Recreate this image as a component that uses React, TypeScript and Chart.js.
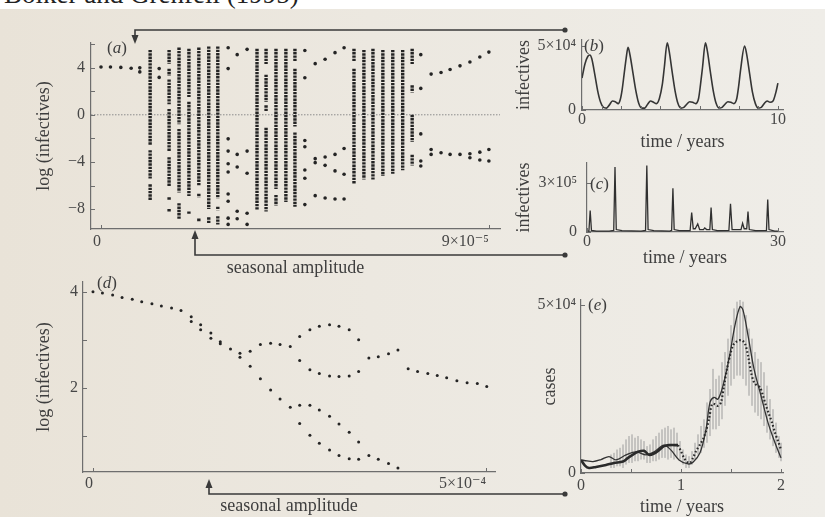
import React, { useEffect, useRef } from "react";
import { Chart, registerables } from "chart.js";

Chart.register(...registerables);

const FONT = "'Liberation Serif', 'DejaVu Serif', 'Times New Roman', serif";
const INK = "#242424";
const AXIS = "#6e6e6e";
const TEXT = "#474747";
const TEXT_T = "#3e3e3e";

// ---------------- panel (a): bifurcation, seasonal amplitude x 1e-5 ----------------
const aXTicks = [0, 9];
const aXTickLabels = ["0", "9×10⁻⁵"];
const aYTicks = [-8, -6, -4, -2, 0, 2, 4, 6];
const aYTickLabels = ["−8", "", "−4", "", "0", "", "4", ""];
const aDenseX = [1.14, 1.58, 1.81, 2.04, 2.27, 2.5, 2.71, 3.62, 3.83, 4.06, 4.29, 4.5, 5.87, 6.1, 6.31, 6.54, 6.77, 7.0, 7.22];
const aDenseSegs: number[][][] = [
  [[5.5, -2.6], [-3.0, -5.4], [-5.9, -7.3]],
  [[5.5, 4.3], [3.9, 3.3], [3.0, 0.9], [0.5, -3.1], [-3.6, -6.1], [-7.0, -7.2], [-8.0, -8.2]],
  [[5.7, -0.8], [-1.2, -6.6], [-7.5, -8.9]],
  [[5.6, 1.5], [1.1, -6.9], [-8.2, -8.4]],
  [[5.7, -6.0], [-6.7, -7.0], [-8.8, -9.1]],
  [[5.8, -8.0], [-8.7, -9.2]],
  [[5.8, -7.1], [-7.8, -8.1], [-8.6, -9.3]],
  [[5.6, -8.1]],
  [[5.6, 4.3], [3.4, 1.1], [0.8, 0.3], [-1.1, -8.2]],
  [[5.6, -6.3], [-6.8, -7.7]],
  [[5.6, -7.4]],
  [[5.6, 4.5], [3.9, -1.0], [-1.5, -7.8]],
  [[5.6, 4.5], [3.9, -5.9]],
  [[5.5, -5.5]],
  [[5.6, -5.5]],
  [[5.5, -5.2]],
  [[5.5, -5.0]],
  [[5.5, -4.7]],
  [[5.6, 4.3], [2.5, 1.9], [0.0, -2.3], [-3.4, -4.3]],
];
const aDotX = [0, 0.22, 0.46, 0.7, 0.9, 1.35, 2.95, 3.16, 3.39, 4.73, 4.97, 5.2, 5.43, 5.64, 7.42, 7.66, 7.89, 8.1, 8.33, 8.56, 8.79, 9.0];
const aDotY: number[][] = [
  [4.06], [4.06], [4.02], [3.95], [3.98, 3.64], [3.92, 3.17],
  [5.69, 3.92, -2.04, -3.08, -4.15, -4.85, -6.72, -7.34, -8.77, -9.3],
  [5.1, -3.36, -4.43, -8.18, -8.82],
  [5.55, -3.08, -4.96, -8.35, -9.3],
  [5.46, 3.14, -2.18, -2.71, -4.68, -5.38, -7.62],
  [4.34, -3.72, -4.06, -6.86],
  [4.71, -3.58, -4.29, -7.06],
  [5.27, -3.36, -4.76, -7.14],
  [5.69, -2.86, -5.04, -7.14],
  [5.1, 2.24, -1.62, -3.92, -4.34],
  [3.45, -2.94, -3.36],
  [3.59, -3.22],
  [3.84, -3.36],
  [4.15, -3.36],
  [4.48, -3.31, -3.64],
  [4.9, -3.17, -3.84],
  [5.32, -2.94, -3.92],
];

// ---------------- panel (d): bifurcation, seasonal amplitude x 1e-4 ----------------
const dXTicks = [0, 5];
const dXTickLabels = ["0", "5×10⁻⁴"];
const dYTicks = [1, 2, 3, 4];
const dYTickLabels = ["", "2", "", "4"];
const dX = [0, 0.12, 0.25, 0.37, 0.5, 0.62, 0.75, 0.87, 1.0, 1.12, 1.25, 1.37, 1.5, 1.62, 1.75, 1.87, 2.0, 2.13, 2.26, 2.38, 2.51, 2.63, 2.76, 2.88, 3.01, 3.13, 3.26, 3.38, 3.51, 3.63, 3.76, 3.88, 4.01, 4.13, 4.26, 4.38, 4.5, 4.63, 4.76, 4.89, 5.01];
const dY: number[][] = [
  [4.0], [3.97], [3.93], [3.88], [3.84], [3.79], [3.75], [3.7], [3.66], [3.61],
  [3.48, 3.38], [3.31, 3.21], [3.14, 3.03], [2.96, 2.92], [2.81], [2.72, 2.64],
  [2.76, 2.45], [2.9, 2.19], [2.93, 1.96], [2.9, 1.77], [2.86, 1.6],
  [3.07, 2.57, 1.64, 1.26], [3.21, 2.38, 1.64, 1.02], [3.28, 2.3, 1.54, 0.85],
  [3.31, 2.25, 1.41, 0.71], [3.28, 2.24, 1.25, 0.6], [3.21, 2.25, 1.08, 0.53],
  [3.0, 2.34, 0.88, 0.52], [2.62, 0.6], [2.65, 0.52], [2.71, 0.43], [2.79, 0.34],
  [2.4], [2.34], [2.3], [2.26], [2.21], [2.15], [2.11], [2.09], [2.03],
];

// ---------------- panel (b): infectives over 10 years (x 1e4) ----------------
const bXTicks = [0, 1, 2, 3, 4, 5, 6, 7, 8, 9, 10];
const bXTickLabels = ["0", "", "", "", "", "", "", "", "", "", "10"];
const bYTicks = [0, 5];
const bYTickLabels = ["0", "5×10⁴"];
const bT = [0, 0.15, 0.3, 0.4, 0.5, 0.65, 0.8, 0.95, 1.1, 1.25, 1.4, 1.55, 1.7, 1.85, 1.95, 2.05, 2.15, 2.25, 2.35, 2.45, 2.6, 2.75, 2.9, 3.05, 3.2, 3.35, 3.5, 3.65, 3.8, 3.95, 4.1, 4.2, 4.35, 4.45, 4.6, 4.75, 4.9, 5.05, 5.2, 5.35, 5.5, 5.65, 5.8, 5.95, 6.05, 6.15, 6.3, 6.4, 6.55, 6.7, 6.85, 7.0, 7.15, 7.3, 7.45, 7.6, 7.75, 7.9, 8.0, 8.1, 8.3, 8.4, 8.55, 8.7, 8.85, 9.0, 9.15, 9.3, 9.45, 9.6, 9.75, 9.9, 10.0];
const bV = [2.5, 3.6, 4.2, 4.3, 4.0, 2.8, 1.5, 0.6, 0.2, 0.15, 0.4, 0.7, 0.65, 0.5, 0.8, 1.6, 2.8, 4.0, 4.9, 4.3, 2.9, 1.5, 0.5, 0.15, 0.15, 0.45, 0.7, 0.6, 0.5, 0.9, 2.0, 3.3, 5.25, 4.6, 3.0, 1.5, 0.5, 0.15, 0.2, 0.45, 0.65, 0.6, 0.5, 0.9, 2.0, 3.3, 5.25, 4.6, 3.0, 1.5, 0.5, 0.15, 0.2, 0.45, 0.65, 0.6, 0.5, 0.9, 1.9, 3.2, 5.0, 4.4, 2.9, 1.4, 0.5, 0.15, 0.2, 0.5, 0.7, 0.6, 0.7, 1.4, 2.1];

// ---------------- panel (c): infectives over 30 years (x 1e5) ----------------
const cXTicks = [0, 30];
const cXTickLabels = ["0", "30"];
const cYTicks = [0, 3];
const cYTickLabels = ["0", "3×10⁵"];
const cT = [0, 0.3, 0.5, 0.7, 1.5, 3.5, 4.2, 4.4, 4.6, 5.5, 8.5, 9.2, 9.4, 9.6, 10.5, 13.0, 13.3, 13.5, 13.7, 14.5, 16.2, 16.45, 16.7, 17.0, 17.4, 17.7, 18.3, 18.5, 18.8, 19.3, 19.5, 19.7, 20.5, 22.3, 22.55, 22.8, 24.2, 24.45, 24.7, 25.1, 25.3, 25.5, 26.5, 28.2, 28.4, 28.6, 29.5, 30];
const cV = [0.05, 0.06, 1.32, 0.1, 0.05, 0.05, 0.1, 4.0, 0.15, 0.08, 0.05, 0.1, 4.1, 0.15, 0.08, 0.06, 0.1, 2.7, 0.15, 0.08, 0.08, 1.2, 0.2, 0.2, 0.5, 0.15, 0.15, 0.25, 0.15, 0.15, 1.5, 0.15, 0.08, 0.1, 1.74, 0.15, 0.15, 0.54, 0.2, 0.2, 1.26, 0.15, 0.08, 0.1, 2.0, 0.15, 0.06, 0.05];

// ---------------- panel (e): cases over 2 years (x 1e4) ----------------
const eXTicks = [0, 0.5, 1, 1.5, 2];
const eXTickLabels = ["0", "", "1", "", "2"];
const eYTicks = [0, 5];
const eYTickLabels = ["0", "5×10⁴"];
const eThickT = [0, 0.04, 0.08, 0.15, 0.25, 0.33, 0.42, 0.47, 0.52, 0.57, 0.63, 0.68, 0.73, 0.78, 0.83, 0.88, 0.97];
const eThickV = [0.39, 0.22, 0.15, 0.18, 0.24, 0.3, 0.34, 0.45, 0.55, 0.63, 0.66, 0.54, 0.58, 0.68, 0.8, 0.83, 0.83];
const eModelT = [0, 0.06, 0.12, 0.2, 0.28, 0.35, 0.45, 0.55, 0.65, 0.73, 0.83, 0.9, 0.98, 1.07, 1.12, 1.19, 1.25, 1.29, 1.33, 1.37, 1.42, 1.48, 1.54, 1.59, 1.62, 1.67, 1.73, 1.8, 1.87, 1.94, 2.0];
const eModelV = [0.39, 0.36, 0.34, 0.4, 0.49, 0.39, 0.54, 0.63, 0.54, 0.63, 0.83, 0.68, 0.39, 0.27, 0.32, 0.6, 1.3, 2.1, 2.25, 2.2, 2.6, 3.4, 4.4, 4.95, 4.85, 4.1, 3.1, 2.3, 1.5, 0.9, 0.45];
const eDataT = [0.97, 1.0, 1.03, 1.06, 1.09, 1.12, 1.15, 1.19, 1.22, 1.25, 1.28, 1.31, 1.34, 1.37, 1.4, 1.43, 1.46, 1.49, 1.52, 1.55, 1.58, 1.61, 1.64, 1.67, 1.7, 1.73, 1.76, 1.79, 1.82, 1.85, 1.88, 1.91, 1.94, 1.97, 2.0];
const eDataV = [0.83, 0.65, 0.45, 0.33, 0.3, 0.45, 0.65, 0.85, 1.0, 1.25, 1.6, 2.05, 2.05, 2.0, 2.1, 2.6, 3.1, 3.5, 3.8, 3.9, 3.95, 3.95, 3.85, 3.5, 3.0, 2.7, 2.6, 2.55, 2.3, 2.0, 1.75, 1.5, 1.2, 0.95, 0.7];
const eBarT = [0.3, 0.33, 0.36, 0.39, 0.42, 0.45, 0.48, 0.51, 0.54, 0.57, 0.6, 0.63, 0.66, 0.69, 0.72, 0.75, 0.78, 0.81, 0.84, 0.87, 0.9, 0.93, 0.96, 0.99, 1.02, 1.05, 1.08, 1.11, 1.14, 1.17, 1.2, 1.23, 1.26, 1.29, 1.32, 1.35, 1.38, 1.41, 1.44, 1.47, 1.5, 1.53, 1.56, 1.59, 1.62, 1.65, 1.68, 1.71, 1.74, 1.77, 1.8, 1.83, 1.86, 1.89, 1.92, 1.95, 1.98, 2.0];
const eBarLo = [0.15, 0.15, 0.2, 0.2, 0.15, 0.25, 0.3, 0.3, 0.35, 0.35, 0.4, 0.4, 0.3, 0.3, 0.35, 0.35, 0.4, 0.45, 0.45, 0.4, 0.45, 0.4, 0.45, 0.4, 0.25, 0.15, 0.15, 0.25, 0.4, 0.55, 0.6, 0.75, 0.9, 1.1, 1.3, 1.3, 1.4, 1.6, 2.0, 2.3, 2.6, 2.8, 2.9, 2.9, 2.8, 2.6, 2.3, 2.0, 1.8, 1.7, 1.6, 1.4, 1.2, 1.0, 0.8, 0.6, 0.45, 0.35];
const eBarHi = [0.55, 0.6, 0.7, 0.75, 0.85, 1.0, 1.1, 1.15, 1.05, 1.1, 1.0, 0.95, 0.8, 0.85, 1.0, 1.1, 1.2, 1.3, 1.35, 1.4, 1.3, 1.35, 1.2, 0.95, 0.7, 0.55, 0.5, 0.65, 0.9, 1.15, 1.4, 1.6, 2.1, 2.5, 3.1, 2.8, 2.9, 3.3, 3.6, 4.0, 4.4, 4.9, 5.1, 5.2, 5.1, 4.7, 4.3, 4.0, 3.6, 3.4, 3.3, 3.0, 2.6, 2.2, 1.9, 1.5, 1.1, 0.9];

// ---------------- helpers ----------------
type Pt = { x: number; y: number | null };
const pairs = (xs: number[], ys: number[]): Pt[] => xs.map((x, i) => ({ x, y: ys[i] }));

function axis(o: {
  min: number; max: number; ticks: number[]; labels: string[]; size: number;
  horizontal: boolean; tickPad: number; title: string; titlePad: number; align?: string;
}) {
  return {
    type: "linear",
    min: o.min,
    max: o.max,
    grid: { display: false, drawTicks: false },
    border: { display: true, color: AXIS, width: 1.2 },
    afterBuildTicks: (s: any) => { s.ticks = o.ticks.map((v) => ({ value: v })); },
    afterFit: (s: any) => { if (o.horizontal) s.height = o.size; else s.width = o.size; },
    ticks: {
      autoSkip: false, maxRotation: 0, minRotation: 0, padding: o.tickPad,
      color: TEXT, font: { family: FONT, size: 16 }, align: o.align || "center",
      callback: (_v: any, i: number) => o.labels[i] ?? "",
    },
    title: {
      display: true, text: o.title, color: TEXT_T, font: { family: FONT, size: 18 },
      padding: o.horizontal ? { top: 0, bottom: o.titlePad } : { top: o.titlePad, bottom: 0 },
    },
  };
}

function innerTicksPlugin(xv: number[], yv: number[]) {
  return {
    id: "innerTicks",
    afterDatasetsDraw(chart: any) {
      const { ctx, chartArea, scales } = chart;
      ctx.save();
      ctx.strokeStyle = AXIS;
      ctx.lineWidth = 1;
      ctx.beginPath();
      xv.forEach((v) => {
        const px = Math.round(scales.x.getPixelForValue(v)) + 0.5;
        ctx.moveTo(px, chartArea.bottom);
        ctx.lineTo(px, chartArea.bottom - 4);
      });
      yv.forEach((v) => {
        const py = Math.round(scales.y.getPixelForValue(v)) + 0.5;
        ctx.moveTo(chartArea.left, py);
        ctx.lineTo(chartArea.left + 4, py);
      });
      ctx.stroke();
      ctx.restore();
    },
  };
}

type Panel = {
  left: number; top: number; width: number; height: number;
  pad: { top: number; right: number; bottom: number; left: number };
  x: any; y: any; datasets: any[]; innerX: number[]; innerY: number[];
};

function makePanels(): Panel[] {
  // (a)
  const A_XMIN = -0.232, A_XMAX = 9.258;
  const aDense: Pt[] = [];
  aDenseX.forEach((x, i) => aDenseSegs[i].forEach((s) => { aDense.push({ x, y: s[0] }, { x, y: s[1] }, { x, y: null }); }));
  const aDots: Pt[] = [];
  aDotX.forEach((x, i) => aDotY[i].forEach((y) => aDots.push({ x, y })));

  // (d)
  const dDots: Pt[] = [];
  dX.forEach((x, i) => dY[i].forEach((y) => dDots.push({ x, y })));

  // (e) error bars
  const eBars: Pt[] = [];
  eBarT.forEach((t, i) => { eBars.push({ x: t, y: eBarLo[i] }, { x: t, y: eBarHi[i] }, { x: t, y: null }); });

  return [
    {
      left: 0, top: 27, width: 520, height: 254,
      pad: { top: 16, right: 20, bottom: 0, left: 0 },
      x: axis({ min: A_XMIN, max: A_XMAX, ticks: aXTicks, labels: aXTickLabels, size: 52, horizontal: true, tickPad: 3, title: "seasonal amplitude", titlePad: 2, align: "end" }),
      y: axis({ min: -9.69, max: 6.09, ticks: aYTicks, labels: aYTickLabels, size: 91, horizontal: false, tickPad: 6, title: "log (infectives)", titlePad: 33 }),
      innerX: aXTicks, innerY: aYTicks,
      datasets: [
        { type: "scatter", data: aDots, pointRadius: 1.8, pointBackgroundColor: INK, pointBorderWidth: 0, borderWidth: 0 },
        { type: "line", data: aDense, borderColor: INK, borderWidth: 3.4, borderDash: [2.4, 0.9], borderCapStyle: "butt", pointRadius: 0, tension: 0, spanGaps: false, fill: false },
        { type: "line", data: [{ x: A_XMIN, y: 0 }, { x: A_XMAX, y: 0 }], borderColor: "#8c8c8c", borderWidth: 1, borderDash: [1.5, 1.5], pointRadius: 0, fill: false },
      ],
    },
    {
      left: 0, top: 266, width: 520, height: 251,
      pad: { top: 16, right: 25, bottom: 0, left: 0 },
      x: axis({ min: -0.127, max: 5.115, ticks: dXTicks, labels: dXTickLabels, size: 45, horizontal: true, tickPad: 2, title: "seasonal amplitude", titlePad: 0, align: "end" }),
      y: axis({ min: 0.255, max: 4.2, ticks: dYTicks, labels: dYTickLabels, size: 83, horizontal: false, tickPad: 5, title: "log (infectives)", titlePad: 33 }),
      innerX: dXTicks, innerY: dYTicks,
      datasets: [
        { type: "scatter", data: dDots, pointRadius: 1.5, pointBackgroundColor: INK, pointBorderWidth: 0, borderWidth: 0 },
      ],
    },
    {
      left: 505, top: 24, width: 320, height: 131,
      pad: { top: 16, right: 42, bottom: 0, left: 0 },
      x: axis({ min: 0, max: 10.26, ticks: bXTicks, labels: bXTickLabels, size: 45, horizontal: true, tickPad: 0, title: "time / years", titlePad: 2 }),
      y: axis({ min: 0, max: 5.47, ticks: bYTicks, labels: bYTickLabels, size: 77, horizontal: false, tickPad: 6, title: "infectives", titlePad: 8 }),
      innerX: bXTicks, innerY: bYTicks,
      datasets: [
        { type: "line", data: pairs(bT, bV), borderColor: "#353535", borderWidth: 1.6, pointRadius: 0, cubicInterpolationMode: "monotone", fill: false },
      ],
    },
    {
      left: 505, top: 143, width: 320, height: 128,
      pad: { top: 20, right: 42, bottom: 0, left: 0 },
      x: axis({ min: 0, max: 30.8, ticks: cXTicks, labels: cXTickLabels, size: 39, horizontal: true, tickPad: 0, title: "time / years", titlePad: 2 }),
      y: axis({ min: 0, max: 4.25, ticks: cYTicks, labels: cYTickLabels, size: 82, horizontal: false, tickPad: 10, title: "infectives", titlePad: 8 }),
      innerX: cXTicks, innerY: cYTicks,
      datasets: [
        { type: "line", data: pairs(cT, cV), borderColor: "#303030", borderWidth: 1.3, pointRadius: 0, tension: 0, fill: false },
      ],
    },
    {
      left: 520, top: 284, width: 305, height: 233,
      pad: { top: 16, right: 42, bottom: 0, left: 0 },
      x: axis({ min: 0, max: 2.02, ticks: eXTicks, labels: eXTickLabels, size: 44, horizontal: true, tickPad: 3, title: "time / years", titlePad: -1 }),
      y: axis({ min: 0, max: 5.15, ticks: eYTicks, labels: eYTickLabels, size: 61, horizontal: false, tickPad: 5, title: "cases", titlePad: 19 }),
      innerX: eXTicks, innerY: eYTicks,
      datasets: [
        { type: "line", data: pairs(eThickT, eThickV), borderColor: "#2a2a2a", borderWidth: 2.6, pointRadius: 0, tension: 0.3, fill: false },
        { type: "line", data: pairs(eDataT, eDataV), borderColor: "#2a2a2a", borderWidth: 2.2, borderDash: [1.6, 2.2], pointRadius: 0, tension: 0.3, fill: false },
        { type: "line", data: pairs(eModelT, eModelV), borderColor: "#333333", borderWidth: 1.3, pointRadius: 0, tension: 0.35, fill: false },
        { type: "line", data: eBars, borderColor: "#9c9c9c", borderWidth: 1, pointRadius: 0, tension: 0, spanGaps: false, fill: false },
      ],
    },
  ];
}

const PANELS = makePanels();

function PanelCanvas({ p }: { p: Panel }) {
  const ref = useRef<HTMLCanvasElement | null>(null);
  useEffect(() => {
    if (!ref.current) return;
    const chart = new Chart(ref.current, {
      type: "scatter",
      data: { datasets: p.datasets as any },
      options: {
        responsive: false,
        animation: false,
        events: [],
        layout: { padding: p.pad },
        plugins: { legend: { display: false }, tooltip: { enabled: false }, title: { display: false } },
        scales: { x: p.x, y: p.y } as any,
      },
      plugins: [innerTicksPlugin(p.innerX, p.innerY) as any],
    });
    return () => chart.destroy();
  }, [p]);
  return (
    <canvas
      ref={ref}
      width={p.width}
      height={p.height}
      style={{ position: "absolute", left: p.left, top: p.top, width: p.width, height: p.height }}
    />
  );
}

const letterStyle = (left: number, top: number): React.CSSProperties => ({
  position: "absolute", left, top, fontFamily: FONT, fontSize: 17, lineHeight: "17px", color: TEXT_T, whiteSpace: "nowrap",
});

export default function App() {
  const line = "#3a3a3a";
  return (
    <div
      style={{
        position: "absolute", left: 0, top: 0, width: 825, height: 517, overflow: "hidden",
        background: "linear-gradient(90deg, #e9e3d8 0%, #ece8e0 45%, #efede8 100%)",
      }}
    >
      <div style={{ position: "absolute", left: 0, top: 0, width: 825, height: 9, background: "#ffffff", overflow: "hidden" }}>
        <span style={{ position: "absolute", left: 4, top: -19, fontFamily: FONT, fontSize: 27, lineHeight: "27px", color: "#222", whiteSpace: "nowrap" }}>
          Bolker and Grenfell (1995)
        </span>
      </div>
      {PANELS.map((p, i) => <PanelCanvas key={i} p={p} />)}
      <svg width={825} height={517} style={{ position: "absolute", left: 0, top: 0 }}>
        <polyline points="565,30 135,30 135,36" fill="none" stroke={line} strokeWidth={1.6} />
        <polygon points="131.5,35 138.5,35 135,44" fill={line} />
        <circle cx={565} cy={30} r={2.6} fill={line} />
        <polyline points="565,255 195,255 195,238" fill="none" stroke={line} strokeWidth={1.6} />
        <polygon points="191.5,239 198.5,239 195,230" fill={line} />
        <circle cx={565} cy={255} r={2.6} fill={line} />
        <polyline points="565,494 209,494 209,487" fill="none" stroke={line} strokeWidth={1.6} />
        <polygon points="205.5,488 212.5,488 209,479" fill={line} />
        <circle cx={565} cy={494} r={2.6} fill={line} />
      </svg>
      <span style={letterStyle(107, 39)}>(<i>a</i>)</span>
      <span style={letterStyle(584, 37)}>(<i>b</i>)</span>
      <span style={letterStyle(590, 175)}>(<i>c</i>)</span>
      <span style={letterStyle(97, 274)}>(<i>d</i>)</span>
      <span style={letterStyle(588, 296)}>(<i>e</i>)</span>
    </div>
  );
}
